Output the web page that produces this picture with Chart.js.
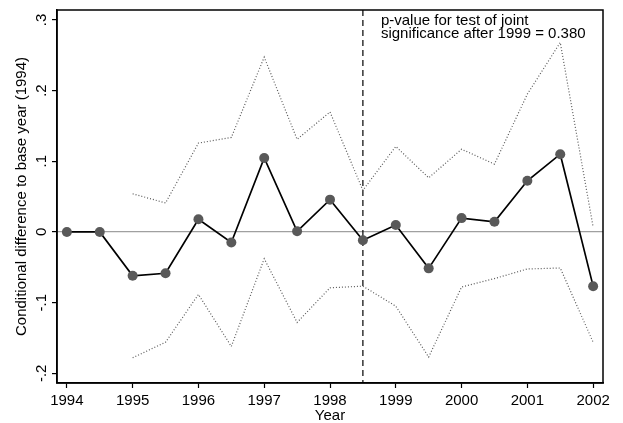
<!DOCTYPE html>
<html>
<head>
<meta charset="utf-8">
<script src="https://cdn.jsdelivr.net/npm/chart.js@4/dist/chart.umd.min.js"></script>
<style>
  html, body { margin: 0; padding: 0; background: #fff; }
  #wrap { width: 623px; height: 423px; }
</style>
</head>
<body>
<div id="wrap"><canvas id="diffChart"></canvas></div>
<script>
/* Conditional difference to base year — event-study style plot */

const YEARS  = [1994, 1994.5, 1995, 1995.5, 1996, 1996.5, 1997, 1997.5, 1998, 1998.5, 1999, 1999.5, 2000, 2000.5, 2001, 2001.5, 2002];
const DIFF   = [0, 0, -0.062, -0.0585, 0.018, -0.015, 0.1046, 0.001, 0.0457, -0.0118, 0.0098, -0.0515, 0.0196, 0.0144, 0.0724, 0.110, -0.0767];
const UPPER  = [null, null, 0.054, 0.041, 0.1257, 0.1337, 0.2473, 0.131, 0.1697, 0.0589, 0.121, 0.0766, 0.117, 0.096, 0.195, 0.268, 0.007];
const LOWER  = [null, null, -0.178, -0.156, -0.0884, -0.162, -0.0379, -0.128, -0.079, -0.0767, -0.105, -0.177, -0.078, -0.066, -0.0524, -0.051, -0.156];
const X_TICKS = [1994, 1995, 1996, 1997, 1998, 1999, 2000, 2001, 2002];
const Y_TICKS = [-0.2, -0.1, 0, 0.1, 0.2, 0.3];
const CUTOFF  = 1998.5;
const NOTE    = ['p-value for test of joint', 'significance after 1999 = 0.380'];

const FONT = 'Liberation Sans, Arial, Helvetica, sans-serif';
const pts = arr => YEARS.map((x, i) => ({ x, y: arr[i] })).filter(p => p.y !== null);
const fmtY = v => v === 0 ? '0' : (v < 0 ? '-' : '') + String(Math.abs(v)).replace(/^0/, '');

/* frame, cutoff line and note */
const extras = {
  id: 'extras',
  beforeDatasetsDraw(chart) {
    const { ctx, chartArea: a, scales: { x } } = chart;
    const px = x.getPixelForValue(CUTOFF);
    ctx.save();
    ctx.strokeStyle = '#000';
    ctx.lineWidth = 1.2;
    ctx.setLineDash([6, 4]);
    ctx.beginPath();
    ctx.moveTo(px, a.top);
    ctx.lineTo(px, a.bottom);
    ctx.stroke();
    ctx.restore();
  },
  afterDraw(chart) {
    const { ctx, chartArea: a, scales: { x } } = chart;
    ctx.save();
    ctx.strokeStyle = '#000';
    ctx.lineWidth = 1.5;
    ctx.strokeRect(a.left, a.top, a.right - a.left, a.bottom - a.top);
    ctx.fillStyle = '#000';
    ctx.font = '15px ' + FONT;
    ctx.textBaseline = 'alphabetic';
    const tx = x.getPixelForValue(CUTOFF) + 18;
    ctx.fillText(NOTE[0], tx, a.top + 15);
    ctx.fillText(NOTE[1], tx, a.top + 27.5);
    ctx.restore();
  }
};

new Chart(document.getElementById('diffChart'), {
  type: 'line',
  data: {
    datasets: [
      {
        label: 'Upper',
        data: pts(UPPER),
        borderColor: '#5a5a5a', borderWidth: 1.2, borderDash: [1, 2],
        pointRadius: 0, tension: 0, fill: false
      },
      {
        label: 'Lower',
        data: pts(LOWER),
        borderColor: '#5a5a5a', borderWidth: 1.2, borderDash: [1, 2],
        pointRadius: 0, tension: 0, fill: false
      },
      {
        label: 'Difference',
        data: pts(DIFF),
        borderColor: '#000', borderWidth: 1.7,
        pointRadius: 5, pointBackgroundColor: '#595959', pointBorderColor: '#595959', pointBorderWidth: 0,
        tension: 0, fill: false
      }
    ]
  },
  options: {
    responsive: true,
    maintainAspectRatio: false,
    animation: false,
    layout: { padding: { left: 0, right: 20, top: 6, bottom: 0 } },
    plugins: { legend: { display: false }, tooltip: { enabled: false } },
    scales: {
      x: {
        type: 'linear',
        min: 1993.85, max: 2002.15,
        afterBuildTicks: s => { s.ticks = X_TICKS.map(v => ({ value: v })); },
        afterFit: s => { s.height = 40; },
        grid: { drawOnChartArea: false, color: '#000', tickLength: 5, tickWidth: 1.2 },
        border: { color: '#000', width: 1.5 },
        ticks: { color: '#000', padding: 4, maxRotation: 0, autoSkip: false, font: { family: FONT, size: 15 }, callback: v => String(v) },
        title: { display: true, text: 'Year', color: '#000', font: { family: FONT, size: 15, lineHeight: 1 }, padding: { top: 0, bottom: 0 } }
      },
      y: {
        type: 'linear',
        min: -0.2137, max: 0.314,
        afterBuildTicks: s => { s.ticks = Y_TICKS.map(v => ({ value: v })); },
        afterFit: s => { s.width = 57; },
        grid: {
          color: c => (c.tick && c.tick.value === 0) ? '#a0a0a0' : 'rgba(0,0,0,0)',
          tickColor: '#000', tickLength: 5, tickWidth: 1.2, lineWidth: 1.2
        },
        border: { color: '#000', width: 1.5 },
        ticks: {
          color: '#000', padding: 1, minRotation: 90, maxRotation: 90, crossAlign: 'center', autoSkip: false,
          font: { family: FONT, size: 15 }, callback: v => fmtY(v)
        },
        title: { display: true, text: 'Conditional difference to base year (1994)', color: '#000', font: { family: FONT, size: 15 }, padding: { top: 13, bottom: 0 } }
      }
    }
  },
  plugins: [extras]
});
</script>
</body>
</html>
